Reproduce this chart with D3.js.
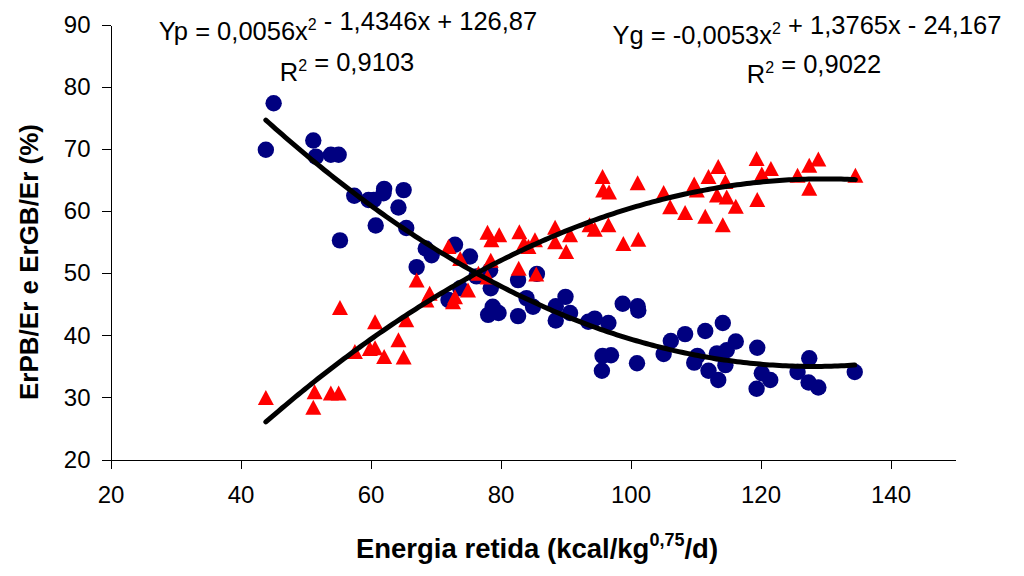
<!DOCTYPE html>
<html>
<head>
<meta charset="utf-8">
<script src="https://cdn.jsdelivr.net/npm/d3@7/dist/d3.min.js"></script>
<style>
	html, body { margin: 0; padding: 0; background: #fff; }
	svg text { font-family: "Liberation Sans", Arial, sans-serif; fill: #000; }
	.axis path, .axis line { stroke: #000; stroke-width: 1px; shape-rendering: crispEdges; }
	.axis text { font-size: 24px; }
	.title { font-weight: bold; }
	.eq { font-size: 25.5px; }
</style>
</head>
<body>
<div id="chart"></div>
<script>
// ErPB/Er (protein) - blue circles
let protX	= [43.9, 45.1, 51.2, 51.6, 53.9, 55.1, 55.3, 57.5, 59.7, 60.5, 60.8, 62.1, 62.0, 64.3, 65.1, 65.5, 67.1, 68.5, 69.4, 72.0,
	73.0, 73.8, 75.3, 76.3, 78.4, 78.5, 78.1, 79.7, 78.8, 82.7, 82.7, 84.0, 85.0, 85.6, 88.5, 88.5, 90.0, 90.7, 93.5, 94.5,
	96.6, 98.8, 101.1, 101.2, 95.7, 97.0, 95.6, 101.0, 105.1, 106.2, 108.4, 111.5, 114.2, 110.3, 109.8, 112.0, 113.5, 113.3, 114.8, 114.6,
	116.2, 119.5, 120.2, 121.5, 119.4, 125.7, 127.5, 127.4, 128.9, 134.5];
let protY	= [69.9, 77.4, 71.4, 68.8, 69.1, 69.1, 55.3, 62.5, 61.8, 61.8, 57.7, 63.6, 62.9, 60.6, 63.4, 57.3, 51.0, 54.0, 52.9, 45.7,
	54.6, 47.6, 52.7, 49.5, 50.5, 47.6, 43.3, 43.6, 44.6, 48.9, 43.1, 46.0, 44.6, 49.9, 44.7, 42.4, 46.2, 43.6, 42.2, 42.7,
	42.0, 45.1, 44.7, 44.0, 36.7, 36.8, 34.3, 35.5, 37.0, 39.1, 40.2, 40.7, 42.0, 36.7, 35.6, 34.3, 32.8, 37.1, 37.6, 35.2,
	39.0, 38.0, 33.9, 32.8, 31.4, 34.1, 36.3, 32.4, 31.6, 34.1];

// ErGB/Er (fat) - red triangles
let gordX	= [43.9, 55.3, 51.4, 51.2, 53.9, 55.1, 57.6, 60.7, 59.9, 60.7, 62.1, 64.3, 65.1, 65.5, 67.1, 69.1, 68.6, 72.0, 73.8, 73.0,
	72.7, 75.0, 76.6, 78.0, 78.5, 78.0, 79.8, 78.6, 82.9, 83.6, 84.3, 85.3, 82.8, 85.5, 88.4, 88.4, 90.7, 90.1, 93.7, 94.5,
	96.6, 98.9, 101.2, 95.7, 95.8, 96.7, 101.1, 105.1, 106.1, 108.4, 109.8, 110.2, 111.5, 112.0, 113.5, 114.6, 113.3, 114.8, 116.2, 114.2,
	119.5, 119.4, 120.2, 121.6, 125.7, 127.5, 128.9, 127.5, 134.6];
let gordY	= [30.0, 44.5, 30.9, 28.4, 30.7, 30.7, 37.4, 42.2, 37.9, 38.0, 36.6, 39.3, 36.5, 42.5, 48.9, 46.8, 45.7, 54.3, 52.4, 46.2,
	45.4, 47.3, 50.0, 49.4, 52.1, 56.6, 56.2, 55.4, 56.7, 54.8, 54.3, 55.4, 50.8, 49.9, 57.4, 55.1, 56.2, 53.5, 57.8, 57.1,
	57.8, 54.8, 55.5, 65.6, 63.4, 63.1, 64.6, 63.0, 60.7, 59.8, 64.4, 63.4, 59.2, 65.6, 67.2, 64.8, 62.6, 62.3, 60.8, 57.8,
	61.9, 68.5, 66.0, 66.9, 65.8, 67.4, 68.4, 63.7, 65.8];

// trendline coefficients as printed on the chart [a, b, c] for a*x^2 + b*x + c
let protCoef	= [0.0056, -1.4346, 126.87];
let gordCoef	= [-0.0053, 1.3765, -24.167];

let xTicks	= [20, 40, 60, 80, 100, 120, 140];
let yTicks	= [20, 30, 40, 50, 60, 70, 80, 90];

let canvasWidth		= 1024;
let canvasHeight	= 576;
let margin			= { top: 25, right: 68.5, bottom: 116.5, left: 110.5 };
let width			= canvasWidth - margin.left - margin.right;
let height			= canvasHeight - margin.top - margin.bottom;

let svg = d3.select('#chart').append('svg')
	.attr('width', canvasWidth)
	.attr('height', canvasHeight);

let canvas = svg.append('g')
	.attr('transform', 'translate(' + margin.left + ',' + margin.top + ')');

let x = d3.scaleLinear().domain([20, 150]).range([0, width]);
let y = d3.scaleLinear().domain([20, 90]).range([height, 0]);

// axes
canvas.append('g')
	.attr('class', 'axis')
	.attr('transform', 'translate(0,' + height + ')')
	.call(d3.axisBottom(x).tickValues(xTicks).tickSize(9).tickSizeOuter(0).tickPadding(17))
	.selectAll('text').attr('dy', '0.71em');

canvas.append('g')
	.attr('class', 'axis')
	.call(d3.axisLeft(y).tickValues(yTicks).tickSize(9).tickSizeOuter(0).tickPadding(11));

// markers
let protData	= protX.map((v, i) => ({ x: v, y: protY[i] }));
let gordData	= gordX.map((v, i) => ({ x: v, y: gordY[i] }));

canvas.append('g').selectAll('circle').data(protData).enter().append('circle')
	.attr('cx', d => x(d.x))
	.attr('cy', d => y(d.y))
	.attr('r', 8.2)
	.style('fill', '#000080');

// triangle centred on its bounding box
function triangle(w, h) {
	return 'M0,' + (-h / 2) + 'L' + (w / 2) + ',' + (h / 2) + 'L' + (-w / 2) + ',' + (h / 2) + 'Z';
}

canvas.append('g').selectAll('path').data(gordData).enter().append('path')
	.attr('d', triangle(16, 15))
	.attr('transform', d => 'translate(' + x(d.x) + ',' + y(d.y) + ')')
	.style('fill', '#ff0000');

// trendlines
function poly(c) {
	return (v) => c[0] * v * v + c[1] * v + c[2];
}

function trend(xs, coef) {
	let lo	= d3.min(xs), hi = d3.max(xs);
	let f	= poly(coef);
	let pts	= d3.range(lo, hi, 0.5).concat([hi]).map(v => [v, f(v)]);
	canvas.append('path')
		.datum(pts)
		.attr('d', d3.line().x(d => x(d[0])).y(d => y(d[1])))
		.style('fill', 'none')
		.style('stroke', '#000')
		.style('stroke-width', 5)
		.style('stroke-linecap', 'round');
}

trend(protX, protCoef);
trend(gordX, gordCoef);

// equations
function eqText(cx, cy, parts) {
	let t = svg.append('text')
		.attr('class', 'eq')
		.attr('x', cx)
		.attr('y', cy)
		.attr('text-anchor', 'middle');
	parts.forEach(p => {
		if (p.sup) {
			t.append('tspan').attr('dy', -10).style('font-size', '16px').text(p.sup);
			t.append('tspan').attr('dy', 10).text('');
		} else {
			t.append('tspan').text(p.t);
		}
	});
	return t;
}

eqText(348, 40, [{ t: 'Yp = 0,0056x' }, { sup: '2' }, { t: ' - 1,4346x + 126,87' }]);
eqText(347, 81, [{ t: 'R' }, { sup: '2' }, { t: ' = 0,9103' }]);
eqText(807, 44, [{ t: 'Yg = -0,0053x' }, { sup: '2' }, { t: ' + 1,3765x - 24,167' }]);
eqText(814, 83, [{ t: 'R' }, { sup: '2' }, { t: ' = 0,9022' }]);

// axis titles
let xt = svg.append('text')
	.attr('class', 'title')
	.attr('x', 537)
	.attr('y', 558)
	.attr('text-anchor', 'middle')
	.style('font-size', '27.5px');
xt.append('tspan').text('Energia retida (kcal/kg');
xt.append('tspan').attr('dy', -12).style('font-size', '18px').text('0,75');
xt.append('tspan').attr('dy', 12).text('/d)');

svg.append('text')
	.attr('class', 'title')
	.attr('transform', 'translate(38,262)rotate(-90)')
	.attr('text-anchor', 'middle')
	.style('font-size', '26px')
	.text('ErPB/Er e ErGB/Er (%)');
</script>
</body>
</html>
